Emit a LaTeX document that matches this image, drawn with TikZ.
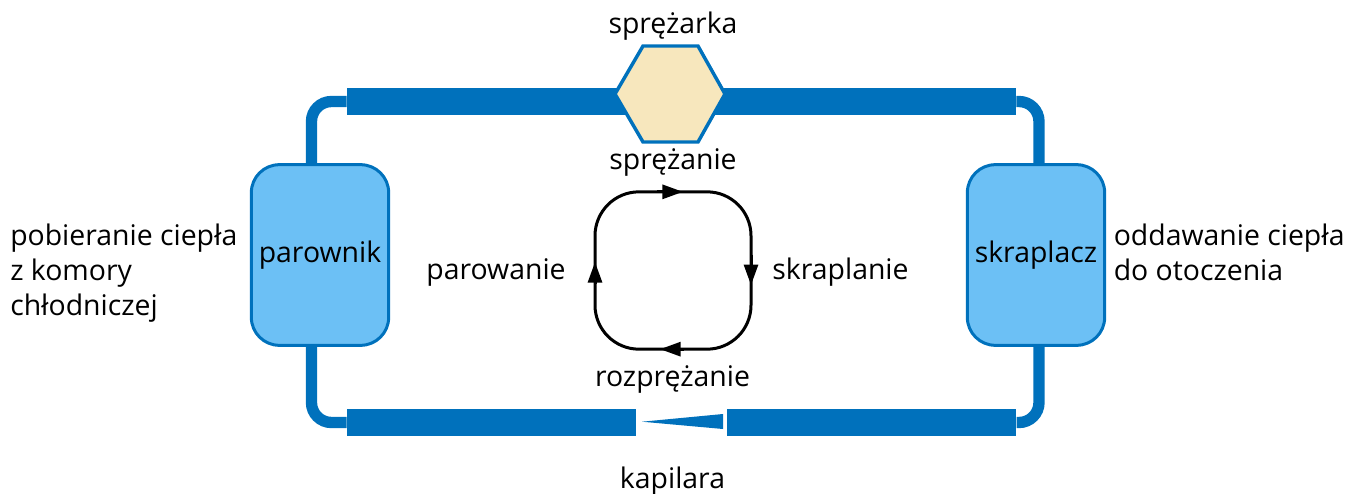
\documentclass[tikz,border=0pt]{standalone}
\usepackage{fontspec}
\setmainfont{Open Sans}
\usetikzlibrary{arrows.meta}
\definecolor{pipeblue}{HTML}{0071BC}
\definecolor{boxblue}{HTML}{6CC0F5}
\definecolor{hexfill}{HTML}{F7E7BD}
\tikzset{
  label/.style={anchor=base, inner sep=0pt, font=\fontsize{21.3}{26}\selectfont, text=black},
  textblock/.style={label, anchor=base west, align=left},
  unitbox/.style={draw=pipeblue, fill=boxblue, line width=2.25pt, rounded corners=21pt, minimum width=103pt, minimum height=135.5pt, inner sep=0pt},
  bar/.style={fill=pipeblue, inner sep=0pt, minimum height=20.25pt},
  pipe/.style={draw=pipeblue, line width=8.5pt, rounded corners=15pt},
  cyc/.style={draw=black, line width=2.25pt, rounded corners=33pt, outer sep=0pt, minimum width=117pt, minimum height=118pt},
  tip/.style={-{Triangle[length=15.5pt,width=10.5pt]}, black, line width=2.25pt}
}
\begin{document}
\begin{tikzpicture}[x=0.75pt, y=-0.75pt]
  \useasboundingbox (0, 0) rectangle (1345, 493);
  % pipes and bars
  \node[bar, minimum width=219.75pt] (barTL) at (493.5, 101.5) {};
  \node[bar, minimum width=237pt] (barTR) at (858, 101.5) {};
  \node[bar, minimum width=216.75pt] (barBL) at (491.5, 422.5) {};
  \node[bar, minimum width=217.25pt] (barBR) at (871.5, 422.5) {};
  \node[unitbox] (parownik) at (320, 255) {};
  \node[unitbox] (skraplacz) at (1036, 255) {};
  \draw[pipe] ([xshift=-6.4pt]parownik.north) |- (barTL.west);
  \draw[pipe] ([xshift=-6.4pt]parownik.south) |- (barBL.west);
  \draw[pipe] ([xshift=2.25pt]skraplacz.north) |- (barTR.east);
  \draw[pipe] ([xshift=2.25pt]skraplacz.south) |- (barBR.east);
  \node[label] at (320, 262) {parownik};
  \node[label] at (1036, 262) {skraplacz};
  % compressor
  \filldraw[draw=pipeblue, fill=hexfill, line width=2.6pt, line join=miter]
    (615, 94) -- (643, 46) -- (698, 46) -- (725, 94) -- (698, 142) -- (643, 142) -- cycle;
  % capillary
  \fill[pipeblue] (642, 421.7) -- (723, 414) -- (723, 429) -- cycle;
  % cycle
  \node[cyc] (obieg) at (673, 270.5) {};
  \draw[tip] ([xshift=-12pt]obieg.north) -- ([xshift=7.5pt]obieg.north);
  \draw[tip] ([yshift=12pt]obieg.east) -- ([yshift=-11pt]obieg.east);
  \draw[tip] ([xshift=8pt]obieg.south) -- ([xshift=-9.75pt]obieg.south);
  \draw[tip] ([yshift=-10pt]obieg.west) -- ([yshift=6.4pt]obieg.west);
  % labels
  \node[label] at (673, 33) {sprężarka};
  \node[label] at (673, 169) {sprężanie};
  \node[label] at (496, 279) {parowanie};
  \node[label] at (840.5, 279) {skraplanie};
  \node[label] at (672.5, 386) {rozprężanie};
  \node[label] at (672.5, 488) {kapilara};
  \node[textblock] at (10, 315) {pobieranie ciepła\\z komory\\chłodniczej};
  \node[textblock] at (1113.5, 280) {oddawanie ciepła\\do otoczenia};
\end{tikzpicture}
\end{document}
